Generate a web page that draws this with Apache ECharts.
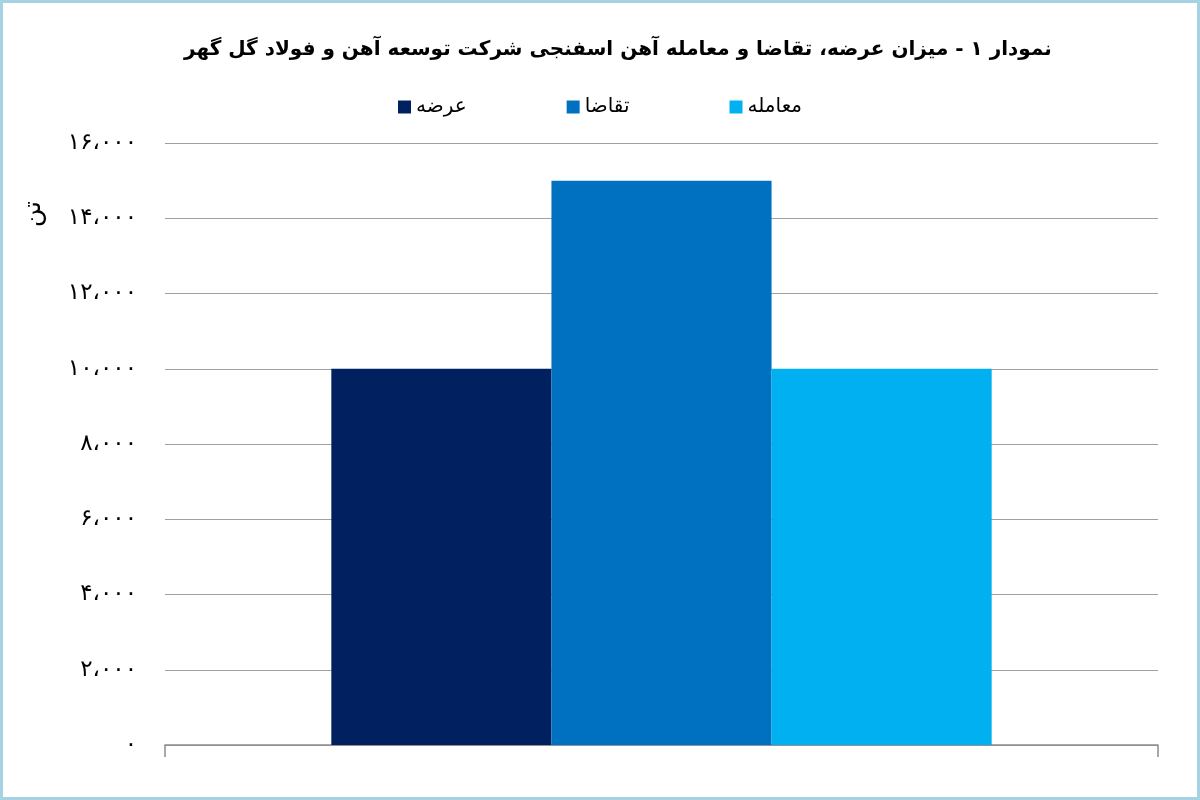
<!DOCTYPE html>
<html><head><meta charset="utf-8">
<script src="https://cdn.jsdelivr.net/npm/echarts@6/dist/echarts.min.js"></script>
<style>
html,body{margin:0;padding:0;background:#fff;}
#c{width:1200px;height:800px;box-sizing:border-box;border:3px solid #a6d3e3;}
</style></head><body>
<div id="c"></div>
<script>
const titleText = 'نمودار ۱ - میزان عرضه، تقاضا و معامله آهن اسفنجی شرکت توسعه آهن و فولاد گل گهر';
const categories = [''];
const seriesNames = ['عرضه', 'تقاضا', 'معامله'];
const seriesValues = [[10000], [15000], [10000]];
const seriesColors = ['#002060', '#0070c0', '#00b0f0'];
const yUnit = 'تن';
const faDigits = '۰۱۲۳۴۵۶۷۸۹';
function toFa(v){
  let s = String(v);
  if (v >= 1000) s = s.slice(0, s.length-3) + '،' + s.slice(-3);
  return s.replace(/[0-9]/g, d => faDigits[+d]);
}
const chart = echarts.init(document.getElementById('c'));
chart.setOption({
  animation:false,
  textStyle:{fontFamily:'DejaVu Sans'},
  title:{text:titleText, left:176, top:32,
    textStyle:{fontFamily:'DejaVu Sans', fontWeight:'bold', fontSize:20, color:'#000'}},
  legend:{top:89, left:'center', itemGap:100, itemWidth:13, itemHeight:13,
    icon:'rect', textStyle:{fontSize:20, color:'#000', fontFamily:'DejaVu Sans'},
    data:seriesNames},
  grid:{left:162, right:39, top:140, bottom:52},
  graphic:[{type:'text', left:18, top:198, rotation:Math.PI/2,
    style:{text:yUnit, fontSize:25, fill:'#000', fontFamily:'DejaVu Sans'}}],
  xAxis:{type:'category', data:categories,
    axisLine:{lineStyle:{color:'#8c8c8c', width:1.5}},
    axisTick:{show:true, length:12, lineStyle:{color:'#8c8c8c', width:1.5}},
    axisLabel:{show:false}},
  yAxis:{type:'value', min:0, max:16000, interval:2000,
    axisLine:{show:false}, axisTick:{show:false},
    splitLine:{lineStyle:{color:'#a0a0a0', width:1.2}},
    axisLabel:{fontSize:23, color:'#000', margin:28, formatter:v=>toFa(v)}},
  series: seriesNames.map((n,i)=>({
    name:n, type:'bar', data:seriesValues[i],
    barGap:'0%', barCategoryGap:'33.5%',
    itemStyle:{color:seriesColors[i]}
  }))
});
</script></body></html>
